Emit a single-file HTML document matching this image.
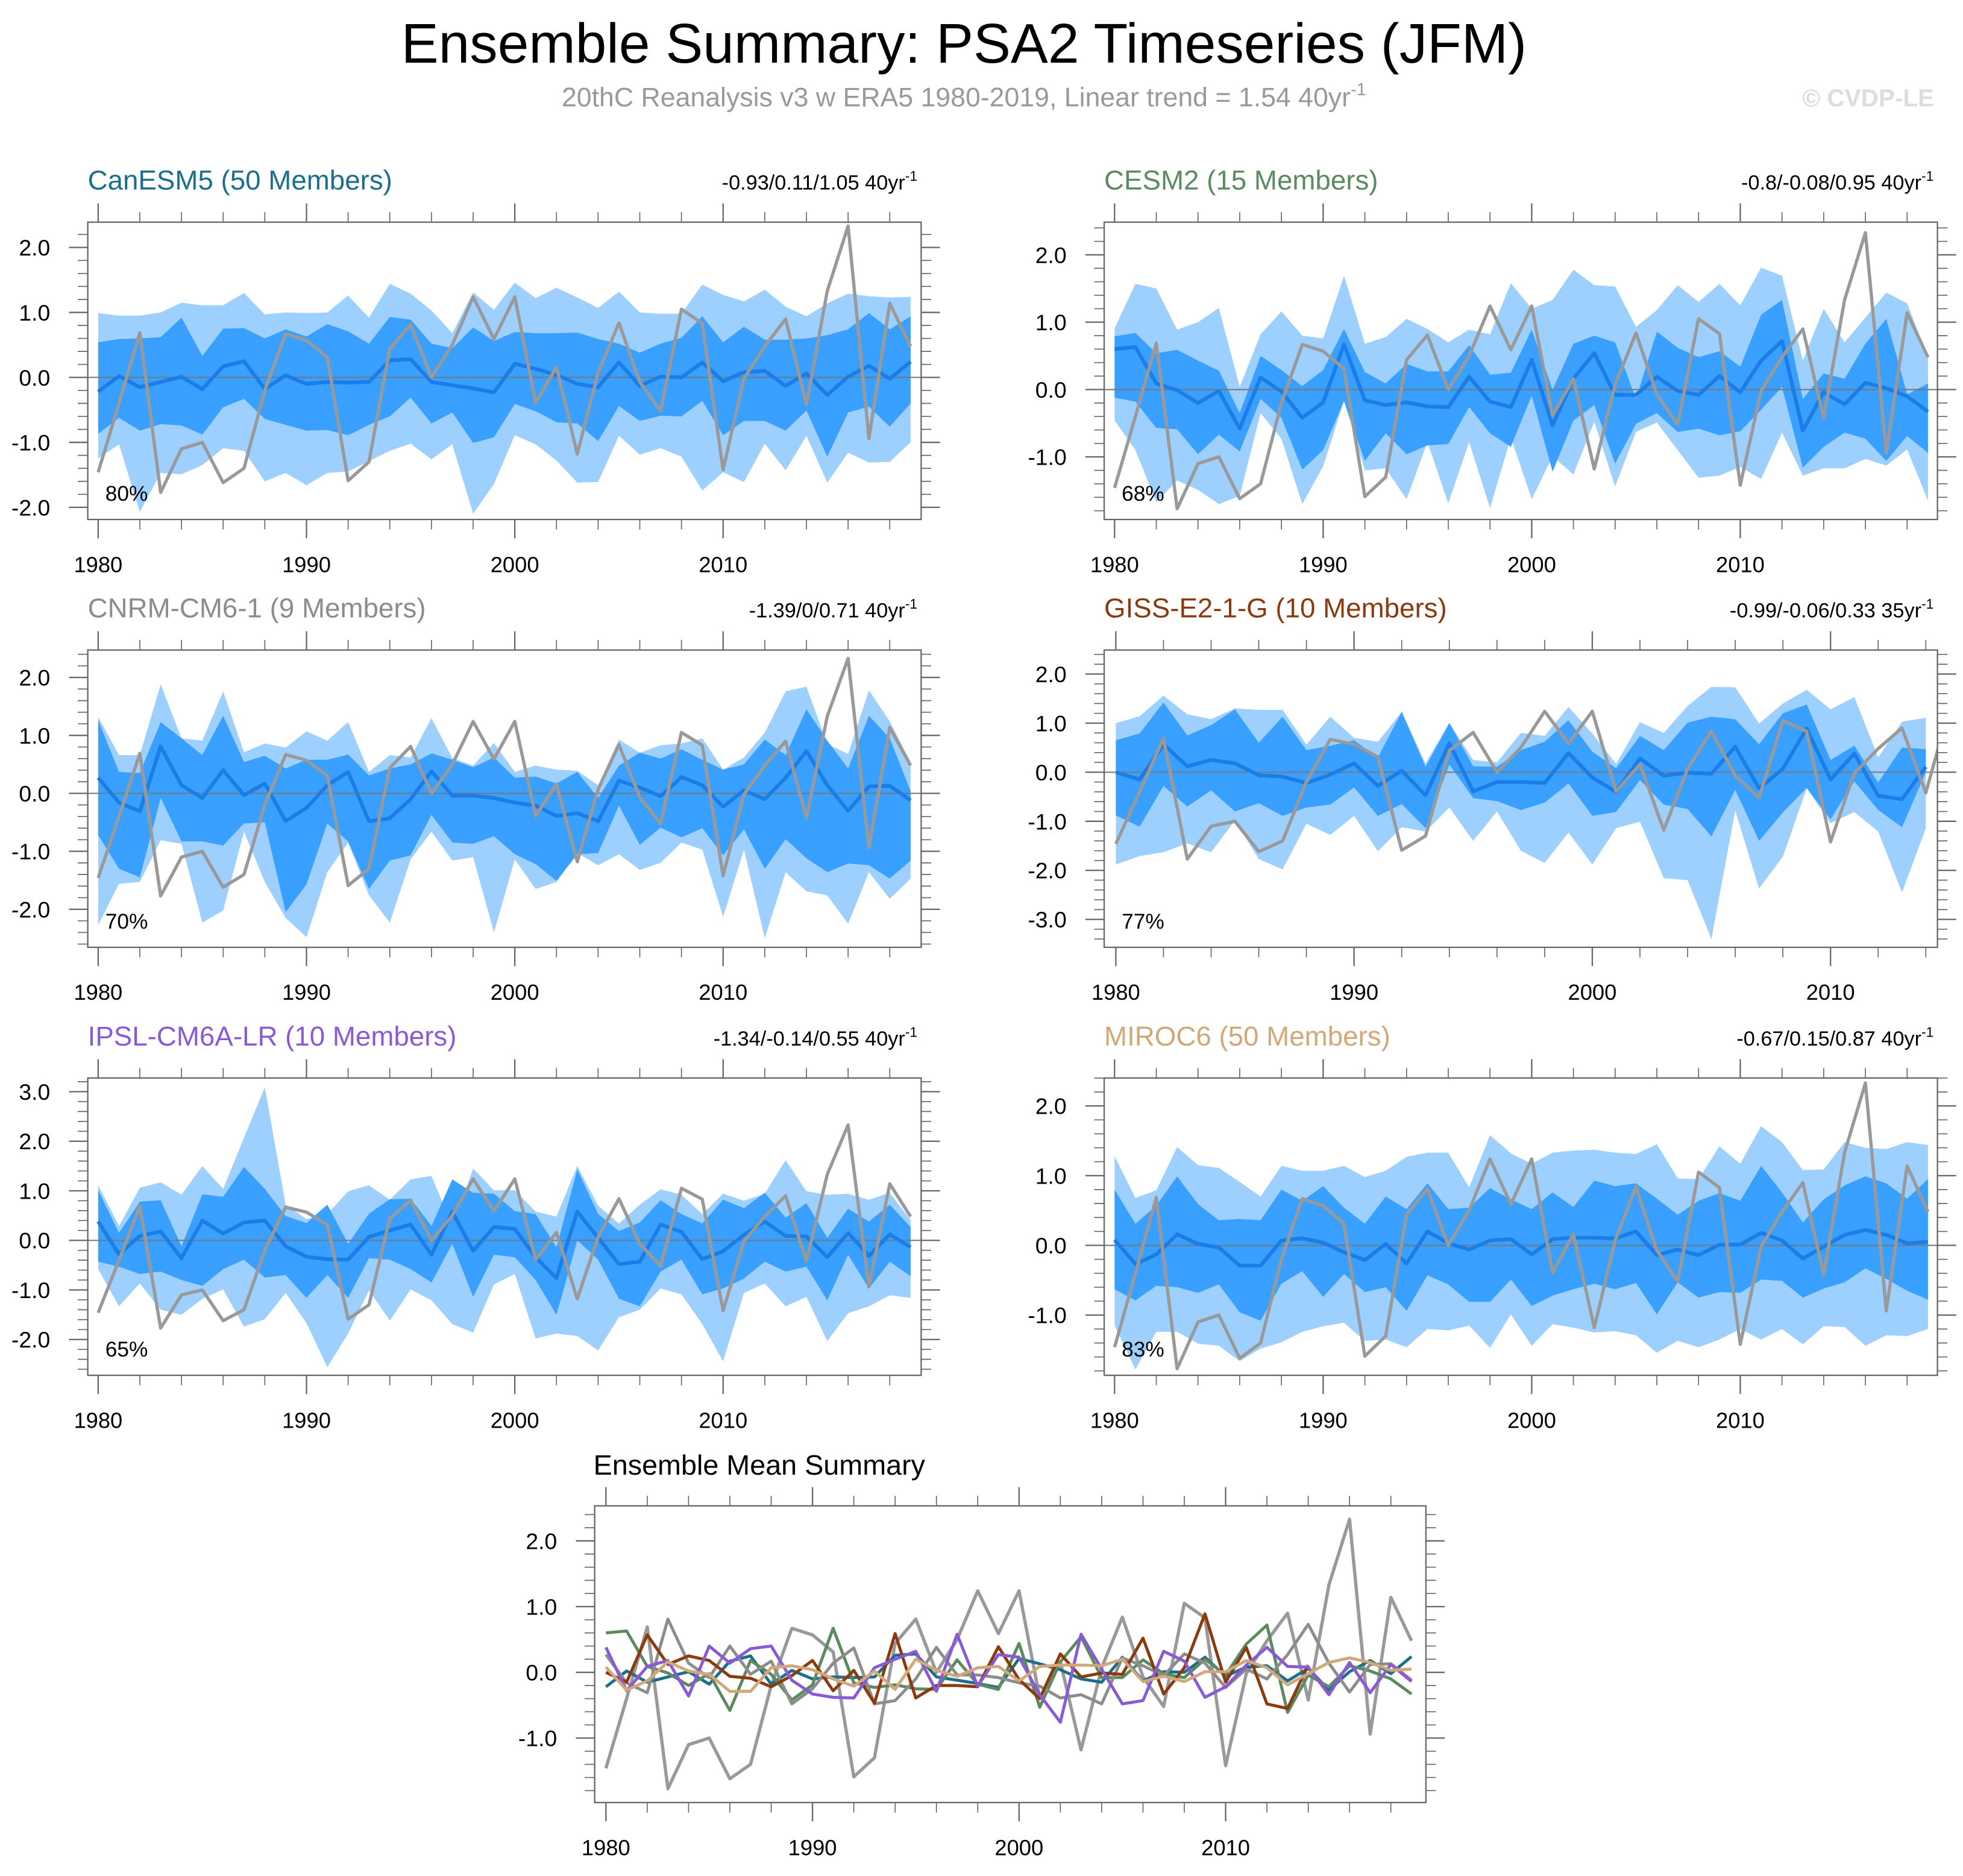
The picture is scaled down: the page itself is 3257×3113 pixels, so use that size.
<!DOCTYPE html>
<html><head><meta charset="utf-8"><style>
html,body{margin:0;padding:0;background:#fff;}
svg{display:block;font-family:"Liberation Sans",Arial,sans-serif;}
</style></head><body>
<svg id="fig" xmlns="http://www.w3.org/2000/svg" width="3257" height="3113" viewBox="0 0 1568 1498.7">
<rect width="1568" height="1499" fill="#fff"/>
<text x="770" y="50" font-size="44.7" text-anchor="middle" fill="#000">Ensemble Summary: PSA2 Timeseries (JFM)</text>
<text x="770" y="85" font-size="21.5" text-anchor="middle" fill="#999">20thC Reanalysis v3 w ERA5 1980-2019, Linear trend = 1.54 40yr<tspan dy="-9" font-size="14">-1</tspan></text>
<text x="1545" y="85" font-size="19.5" font-weight="bold" text-anchor="end" fill="#ddd">© CVDP-LE</text>
<g id="plots"></g>
</svg>
<script>
const years = Array.from({length:40},(_,i)=>1980+i);
const obs = [-1.46,-0.4,0.69,-1.77,-1.1,-1.0,-1.62,-1.4,-0.2,0.67,0.57,0.31,-1.59,-1.3,0.44,0.81,0.0,0.5,1.24,0.59,1.24,-0.39,0.16,-1.18,0.07,0.84,-0.07,-0.52,1.05,0.83,-1.42,-0.02,0.48,0.9,-0.42,1.33,2.33,-0.94,1.14,0.48];

const canMean=[-0.22,0.02,-0.15,-0.07,0.01,-0.18,0.17,0.25,-0.18,0.03,-0.1,-0.07,-0.08,-0.07,0.26,0.28,-0.07,-0.12,-0.17,-0.23,0.21,0.13,0.04,-0.1,-0.15,0.23,-0.13,0.01,0,0.23,-0.06,0.08,0.1,-0.13,0.06,-0.27,0.01,0.18,-0.02,0.24];
const canInHi=[.54,.59,.6,.62,.92,.33,.75,.76,.6,.74,.63,.82,.71,.52,.93,.89,.52,.45,.77,.56,.7,.68,.68,.69,.59,.52,.38,.52,.61,.94,.54,.78,.58,.58,.6,.65,.74,.99,.74,.94];
const canInLo=[-.87,-.62,-.82,-.72,-.74,-.88,-.46,-.33,-.64,-.73,-.82,-.81,-.89,-.73,-.6,-.31,-.71,-.54,-1.01,-.92,-.41,-.52,-.69,-.71,-.98,-.44,-.67,-.59,-.6,-.36,-.89,-.67,-.67,-.82,-.51,-1.22,-.54,-.45,-.76,-.4];
const canOutHi=[.99,.95,.95,1.0,1.15,1.11,1.11,1.3,.97,1.0,.99,1.0,1.26,.92,1.44,1.29,1.03,.68,1.31,1.04,1.46,1.22,1.38,1.23,1.07,1.32,1.0,.98,.98,1.43,1.27,1.17,1.35,1.09,.94,1.14,1.29,1.25,1.23,1.24];
const canOutLo=[-1.25,-1.03,-2.07,-1.47,-1.49,-1.35,-1.09,-1.13,-1.6,-1.47,-1.66,-1.47,-1.45,-1.29,-1.13,-1.02,-1.26,-1.03,-2.1,-1.64,-.89,-1.03,-1.28,-1.62,-1.61,-.9,-1.19,-1.09,-1.22,-1.74,-1.46,-1.61,-1.02,-1.43,-.9,-1.62,-1.16,-1.31,-1.3,-1.0];

const cesMean=[.6,.63,.09,-.01,-.2,-.02,-.58,.18,-.03,-.42,-.19,.67,-.16,-.23,-.19,-.25,-.26,.19,-.18,-.26,.44,-.53,.16,.54,-.08,-.08,.19,-.02,-.08,.2,-.04,.43,.72,-.61,-.04,-.22,.1,.02,-.1,-.33];
const cesInHi=[.79,.84,.54,.59,.43,.28,-.35,.5,.29,.05,.29,.9,.26,.09,.38,.27,.27,.66,.22,.25,.89,0,.68,.8,.7,-.14,.86,.62,.48,.57,.34,1.11,1.33,-.14,.24,.16,.68,1.05,-.07,.09];
const cesInLo=[-.12,-.18,-.57,-.59,-.96,-.67,-.92,-.14,-.42,-1.19,-.9,-.17,-1.06,-.65,-.96,-.83,-.81,-.26,-.65,-.85,-.09,-1.22,-.46,-.23,-1.1,-.51,-.35,-.63,-.58,-.68,-.62,-.3,.04,-1.16,-.85,-.64,-.73,-1.06,-.69,-.94];
const cesOutHi=[.91,1.57,1.5,.89,1.0,1.21,.04,.82,1.16,.8,.76,1.69,.68,.78,1.05,.9,.7,.89,.82,1.58,1.2,1.33,1.78,1.55,1.53,.93,1.18,1.55,1.3,1.57,1.25,1.81,1.69,.43,1.2,.7,1.07,1.44,1.28,.47];
const cesOutLo=[-.46,-.9,-1.67,-1.35,-1.49,-1.7,-1.58,-.35,-.73,-1.7,-1.14,-.17,-1.2,-1.17,-1.63,-.78,-1.69,-.78,-1.76,-.71,-1.63,-.99,-1.26,-.48,-1.44,-.63,-.49,-.9,-1.31,-1.28,-1.15,-1.33,-.64,-1.28,-1.17,-1.17,-1.03,-1.13,-.89,-1.65];

const cnrMean=[.27,-.16,-.31,.81,.14,-.08,.4,-.03,.17,-.48,-.25,.14,.37,-.48,-.43,-.1,.38,-.04,-.04,-.08,-.16,-.21,-.39,-.34,-.48,.22,.1,-.05,.28,.14,-.23,.05,-.1,.27,.73,.14,-.3,.12,.13,-.12];
const cnrInHi=[1.26,.37,.35,1.23,.95,.66,1.34,.54,.65,.43,.58,.58,.67,.31,.43,.5,.69,.58,.45,.62,.27,.29,.17,.37,-.08,.48,.7,.6,.76,.58,.41,.5,.93,.66,1.45,.91,.43,1.34,.95,.04];
const cnrInLo=[-.72,-1.3,-1.45,-.08,-.83,-.83,-.9,-.52,-.5,-2.05,-1.57,-.52,-.83,-1.65,-1.16,-1.07,-.37,-.85,-.87,-.74,-1.05,-1.22,-1.51,-1.05,-1.03,-.21,-.89,-.59,-.76,-.6,-1.07,-.62,-1.3,-.79,-1.12,-1.36,-1.21,-1.24,-1.47,-1.16];
const cnrOutHi=[1.32,.66,.66,1.88,.95,.91,1.76,.71,.86,.79,1.07,.91,1.23,.37,.66,.62,1.3,.61,.48,.87,.37,.48,.41,.39,.14,.93,.7,.83,.86,.95,.41,.62,1.05,1.76,1.84,.85,.68,1.78,1.24,.54];
const cnrOutLo=[-2.27,-1.56,-1.53,-.81,-.87,-2.23,-2.02,-.66,-1.53,-2.15,-2.48,-1.36,-.85,-1.76,-2.23,-1.14,-.66,-1.16,-1.1,-2.4,-1.14,-1.65,-1.53,-1.03,-1.24,-1.05,-1.32,-1.2,-.85,-.97,-2.13,-.97,-2.5,-1.36,-1.69,-1.76,-2.25,-1.36,-1.82,-1.47];

const gisMean=[0,-.15,.57,.12,.25,.18,-.06,-.09,-.22,-.05,.18,-.28,.03,-.47,.59,-.39,-.2,-.2,-.22,.39,-.11,-.4,.28,-.07,-.01,-.03,.52,-.33,.07,.89,-.15,.38,-.48,-.55,.11];
const gisInHi=[.65,.79,1.42,.75,.96,1.28,.6,1.13,.45,.54,.65,.3,1.23,.11,1.0,.12,.11,.45,.62,1.06,.42,.08,.74,.45,1.01,1.13,1.08,.57,1.2,1.38,.25,.54,-.21,.5,.47];
const gisInLo=[-.88,-1.11,-.28,-.7,-.37,-.8,-.63,-.89,-.72,-.66,-.31,-.89,-.65,-1.14,.16,-.53,-.59,-.77,-.62,-.23,-.89,-.81,-.16,-.66,-.75,-1.31,-.36,-1.4,-.82,-.32,-.96,-.19,-.77,-1.12,0];
const gisOutHi=[1.0,1.14,1.56,1.18,1.08,1.3,1.27,1.27,.56,1.13,.7,.62,1.23,.18,1.01,.25,.2,.8,.74,1.33,.79,.17,1.02,.8,1.35,1.74,1.73,.99,1.4,1.68,1.28,1.53,.3,1.03,1.11];
const gisOutLo=[-1.88,-1.71,-1.63,-1.45,-1.63,-.98,-1.77,-1.98,-1.05,-1.28,-.89,-1.61,-1.12,-1.21,-.72,-1.4,-.8,-1.6,-1.85,-1.23,-1.88,-1.14,-1.01,-2.16,-2.2,-3.4,-.78,-2.37,-1.72,-.33,-1.04,-.81,-1.21,-2.45,-1.14];

const ipsMean=[.38,-.28,.09,.18,-.36,.4,.14,.36,.4,-.12,-.33,-.38,-.39,.07,.2,.32,-.29,.58,-.21,.27,.23,-.34,-.76,.58,.05,-.48,-.43,.32,.17,-.38,-.22,.11,.38,.09,.08,-.34,.15,-.31,.12,-.14];
const ipsInHi=[1.01,.15,.78,.81,-.12,.93,.88,1.48,1.04,.49,.35,.72,-.07,.54,.83,.84,.29,1.23,.96,.94,.59,.53,-.14,1.43,.53,.19,.36,.81,.53,.34,.82,.65,.96,.46,.75,.05,.64,.38,.72,.27];
const ipsInLo=[-.43,-.53,-.68,-.63,-.8,-.92,-.58,-.39,-.75,-.7,-1.16,-.7,-1.16,-.36,-.39,-.58,-.85,-.07,-1.14,-.29,-.34,-.8,-1.5,0,-.39,-1.18,-1.33,-.63,-.39,-1.09,-.97,-.77,-.43,-.63,-.53,-1.21,-.29,-.97,-.43,-.72];
const ipsOutHi=[1.11,.29,1.06,1.17,.92,1.5,1.04,2.07,3.09,.72,.43,.53,.99,1.11,.82,1.23,1.3,.29,1.45,1.01,1.01,.58,.48,1.5,.7,.34,.72,1.03,.92,.53,.94,.8,.94,1.62,.99,.92,.94,.82,.96,.41];
const ipsOutLo=[-.58,-1.33,-.87,-1.4,-1.5,-1.18,-.99,-1.74,-1.59,-1.06,-1.67,-2.56,-1.88,-1.01,-1.62,-.99,-1.21,-1.69,-1.86,-.89,-.68,-1.98,-1.88,-1.93,-2.22,-1.55,-1.4,-.97,-1.09,-1.69,-2.44,-1.06,-.87,-1.33,-1.14,-2.03,-1.47,-1.33,-1.11,-1.16];

const mirMean=[.08,-.27,-.13,.16,.02,-.03,-.29,-.29,.07,.1,.04,-.1,-.21,.02,-.26,.2,.03,-.06,.07,.09,-.13,.09,.11,.11,.1,.2,-.14,-.06,-.14,.01,.01,.18,.07,-.19,-.02,.15,.22,.15,.03,.05];
const mirInHi=[.8,.31,.57,.99,.59,.36,.38,.36,.8,.64,.85,.54,.31,.7,.52,.89,.52,.54,.82,.66,.52,.76,.55,.93,.85,.89,.67,.44,.64,.75,.64,1.14,.76,.33,.66,.86,.99,.89,.67,.95];
const mirInLo=[-.63,-.79,-.58,-.6,-.68,-.56,-.96,-1.08,-.55,-.37,-.74,-.41,-.67,-.6,-.94,-.43,-.56,-.81,-.81,-.49,-.87,-.72,-.63,-.55,-.63,-.54,-.99,-.53,-.75,-.67,-.68,-.49,-.51,-.75,-.62,-.53,-.33,-.48,-.65,-.78];
const mirOutHi=[1.28,.68,.79,1.41,1.15,1.11,.91,.7,1.14,1.07,1.07,1.14,.98,1.07,1.27,1.33,1.33,.83,1.58,1.32,1.17,1.33,1.36,1.37,1.33,1.31,1.45,.96,.95,1.42,1.17,1.71,1.48,1.08,1.09,1.48,1.4,1.38,1.48,1.44];
const mirOutLo=[-1.15,-1.78,-1.24,-1.24,-1.41,-1.44,-1.66,-1.48,-1.39,-1.24,-1.16,-1.11,-1.37,-1.35,-1.46,-1.2,-1.22,-1.15,-1.47,-.99,-1.44,-1.13,-1.18,-1.25,-1.23,-1.29,-1.54,-1.37,-1.46,-1.35,-1.2,-1.35,-1.2,-1.42,-1.16,-1.17,-1.44,-1.29,-1.3,-1.2];

const panels=[
 {name:'canesm5',title:'CanESM5 (50 Members)',color:'#1c6f8c',stat:'-0.93/0.11/1.05 40yr',pct:'80%',L:70.1,R:735.8,T:177.5,B:415,x80:78.4,step:16.64,y0:301.5,u:51.9,ticks:[-2,-1,0,1,2],mean:canMean,ih:canInHi,il:canInLo,oh:canOutHi,ol:canOutLo},
 {name:'cesm2',title:'CESM2 (15 Members)',color:'#5b8a5e',stat:'-0.8/-0.08/0.95 40yr',pct:'68%',L:882,R:1547.6,T:177.5,B:415,x80:890.3,step:16.66,y0:311.2,u:53.8,ticks:[-1,0,1,2],mean:cesMean,ih:cesInHi,il:cesInLo,oh:cesOutHi,ol:cesOutLo},
 {name:'cnrm-cm6-1',title:'CNRM-CM6-1 (9 Members)',color:'#8c8c8c',stat:'-1.39/0/0.71 40yr',pct:'70%',L:70.1,R:735.8,T:519.3,B:756.8,x80:78.4,step:16.64,y0:633.8,u:46.3,ticks:[-2,-1,0,1,2],mean:cnrMean,ih:cnrInHi,il:cnrInLo,oh:cnrOutHi,ol:cnrOutLo},
 {name:'giss-e2-1-g',title:'GISS-E2-1-G (10 Members)',color:'#8b3a0e',stat:'-0.99/-0.06/0.33 35yr',pct:'77%',L:882,R:1547.6,T:519.3,B:756.8,x80:891.3,step:19.03,y0:616.9,u:39.2,ticks:[-3,-2,-1,0,1,2],mean:gisMean,ih:gisInHi,il:gisInLo,oh:gisOutHi,ol:gisOutLo},
 {name:'ipsl-cm6a-lr',title:'IPSL-CM6A-LR (10 Members)',color:'#8a5ad6',stat:'-1.34/-0.14/0.55 40yr',pct:'65%',L:70.1,R:735.8,T:861.2,B:1098.7,x80:78.4,step:16.64,y0:990.9,u:39.6,ticks:[-2,-1,0,1,2,3],mean:ipsMean,ih:ipsInHi,il:ipsInLo,oh:ipsOutHi,ol:ipsOutLo},
 {name:'miroc6',title:'MIROC6 (50 Members)',color:'#d2a77a',stat:'-0.67/0.15/0.87 40yr',pct:'83%',L:882,R:1547.6,T:861.2,B:1098.7,x80:890.3,step:16.66,y0:994.9,u:55.7,ticks:[-1,0,1,2],mean:mirMean,ih:mirInHi,il:mirInLo,oh:mirOutHi,ol:mirOutLo}
];
const NS='http://www.w3.org/2000/svg';
const root=document.getElementById('plots');
function mk(tag,attrs,parent){const e=document.createElementNS(NS,tag);for(const k in attrs)e.setAttribute(k,attrs[k]);(parent||root).appendChild(e);return e;}
let clipId=0;
function axes(p,g){
  const xs=y=>p.x80+(y-1980)*p.step, ys=v=>p.y0-v*p.u;
  const tc='#666';
  const vmin=(p.y0-p.B)/p.u, vmax=(p.y0-p.T)/p.u;
  for(let v=Math.ceil(vmin*5)/5; v<=vmax+1e-6; v+=0.2){
    const vv=Math.round(v*10)/10; const yy=ys(vv);
    const major=p.ticks.some(t=>Math.abs(t-vv)<1e-6);
    const len=major?15:8;
    mk('line',{x1:p.L-len,x2:p.L,y1:yy,y2:yy,stroke:tc,'stroke-width':major?1.1:0.8},g);
    mk('line',{x1:p.R,x2:p.R+len,y1:yy,y2:yy,stroke:tc,'stroke-width':major?1.1:0.8},g);
  }
  p.ticks.forEach(t=>{
    const lab=mk('text',{x:p.L-30,y:ys(t)+6.5,'font-size':18,'text-anchor':'end',fill:'#000'},g);
    
    
    lab.textContent=t.toFixed(1);
  });
  for(let yr=1980; xs(yr)<=p.R; yr+=2){
    const xx=xs(yr); const major=yr%10===0; const len=major?15:8;
    mk('line',{x1:xx,x2:xx,y1:p.T-len,y2:p.T,stroke:tc,'stroke-width':major?1.1:0.8},g);
    mk('line',{x1:xx,x2:xx,y1:p.B,y2:p.B+len,stroke:tc,'stroke-width':major?1.1:0.8},g);
    if(major){
      const lab=mk('text',{x:xx,y:p.B+42,'font-size':17.5,'text-anchor':'middle',fill:'#000'},g);
      
      
      lab.textContent=yr;
    }
  }
  return {xs,ys};
}
function clip(p,g){
  const id='c'+(clipId++);
  const cp=mk('clipPath',{id},g); mk('rect',{x:p.L,y:p.T,width:p.R-p.L,height:p.B-p.T},cp);
  return 'url(#'+id+')';
}
function band(hi,lo,xs,ys,fill,g,name){
  let d='';
  hi.forEach((v,i)=>{d+=(i?'L':'M')+xs(1980+i).toFixed(2)+','+ys(v).toFixed(2);});
  for(let i=lo.length-1;i>=0;i--) d+='L'+xs(1980+i).toFixed(2)+','+ys(lo[i]).toFixed(2);
  const e=mk('path',{d:d+'Z',fill},g);
  
  
}
function line(vals,xs,ys,color,w,g,name){
  const d=vals.map((v,i)=>(i?'L':'M')+xs(1980+i).toFixed(2)+','+ys(v).toFixed(2)).join('');
  const e=mk('path',{d,fill:'none',stroke:color,'stroke-width':w,'stroke-linejoin':'round'},g);
  
  
}
panels.forEach(p=>{
  const g=mk('g',{});
  
  
  const t=mk('text',{x:p.L,y:p.T-26,'font-size':22,fill:p.color},g);
  
  
  t.textContent=p.title;
  const s=mk('text',{x:p.R-3,y:p.T-26,'font-size':16.5,'text-anchor':'end',fill:'#000'},g);
  
  
  s.textContent=p.stat;
  const sup=mk('tspan',{dy:-7,'font-size':11},s); sup.textContent='-1';
  const {xs,ys}=axes(p,g);
  const cg=mk('g',{'clip-path':clip(p,g)},g);
  band(p.oh,p.ol,xs,ys,'#9ed0ff',cg,'outer-spread-band');
  band(p.ih,p.il,xs,ys,'#39a0ff',cg,'inner-spread-band');
  mk('line',{x1:p.L,x2:p.R,y1:ys(0),y2:ys(0),stroke:'#777','stroke-width':1},cg);
  line(p.mean,xs,ys,'#1c7de8',3,cg,'ensemble-mean-line');
  line(obs,xs,ys,'#999',2.6,cg,'observed-line');
  const pc=mk('text',{x:p.L+14,y:p.B-15,'font-size':17,fill:'#000'},g);
  
  
  pc.textContent=p.pct;
  mk('rect',{x:p.L,y:p.T,width:p.R-p.L,height:p.B-p.T,fill:'none',stroke:'#666','stroke-width':1.1},g);
});
const sp={L:475,R:1139,T:1203,B:1440,x80:484,step:16.5,y0:1336,u:52.5,ticks:[-1,0,1,2]};
const sg=mk('g',{});


const st=mk('text',{x:474,y:1178,'font-size':22.5,fill:'#000'},sg);


st.textContent='Ensemble Mean Summary';
const sa=axes(sp,sg);
const scg=mk('g',{'clip-path':clip(sp,sg)},sg);
line(obs,sa.xs,sa.ys,'#999',2.6,scg,'observed-line');
panels.forEach(p=>line(p.mean,sa.xs,sa.ys,p.color,2.4,scg,p.name+'-mean-line'));
mk('rect',{x:sp.L,y:sp.T,width:sp.R-sp.L,height:sp.B-sp.T,fill:'none',stroke:'#666','stroke-width':1.1},sg);
</script>
</body></html>
